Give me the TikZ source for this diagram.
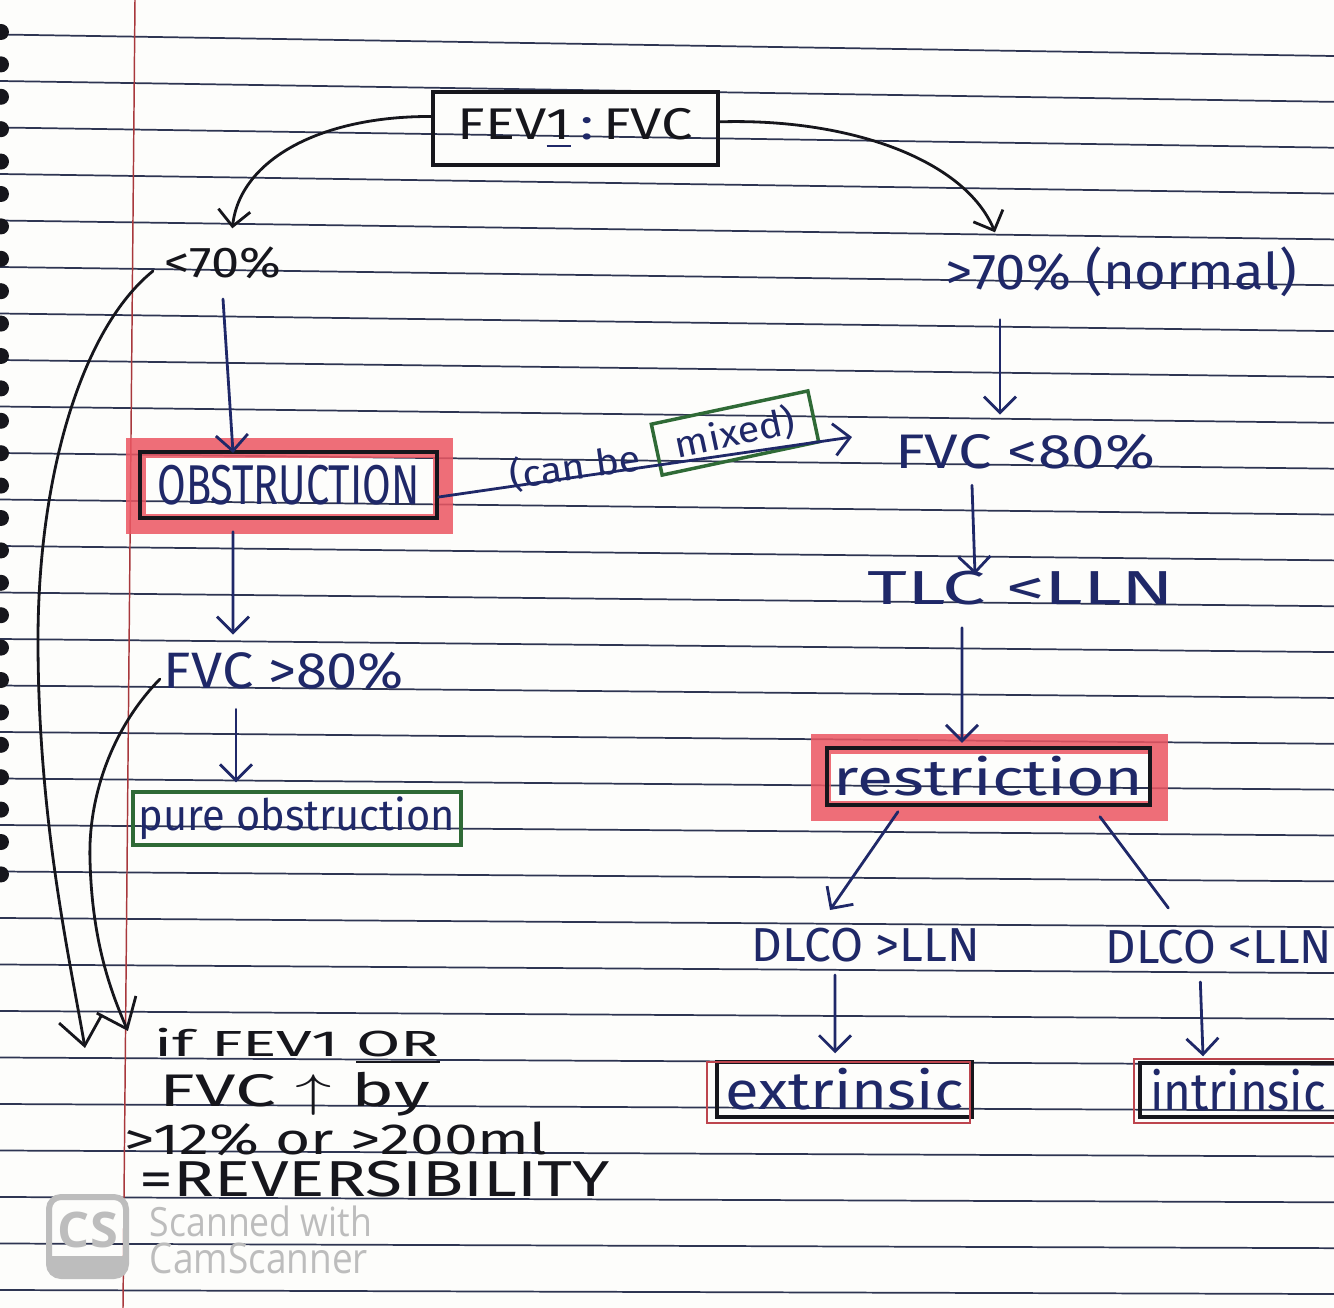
\documentclass[tikz,border=0pt]{standalone}
\usepackage{fontspec}
\setmainfont{Fira Sans}
\newfontfamily\wmfont{Open Sans}
\usetikzlibrary{arrows.meta}
\definecolor{inkblue}{HTML}{1F2868}
\definecolor{inkblack}{HTML}{16161C}
\definecolor{inkgreen}{HTML}{2F6A36}
\definecolor{marker}{HTML}{EC5662}
\definecolor{ruleline}{HTML}{2E3552}
\definecolor{marginred}{HTML}{A8383C}
\definecolor{paper}{HTML}{FDFDFB}
\definecolor{wmgray}{HTML}{BDBDBD}
\newlength\pxu \setlength\pxu{0.75pt}
\newcommand\hw[3]{\resizebox*{#1\pxu}{#2\pxu}{#3}}
\pgfdeclarelayer{paperlayer}
\pgfdeclarelayer{markerlayer}
\pgfsetlayers{paperlayer,markerlayer,main}
\begin{document}
\begin{tikzpicture}[x=0.75pt,y=-0.75pt,
  hand/.style={inner sep=0pt,outer sep=0pt,text=inkblue},
  handk/.style={hand,text=inkblack},
  frame/.style={draw=inkblack,line width=2.6pt,inner sep=0pt,text=inkblue},
  gframe/.style={draw=inkgreen,line width=2.6pt,inner sep=0pt,text=inkblue},
  pen/.style={draw=inkblue,line width=2.1pt,line cap=round,line join=round},
  penk/.style={pen,draw=inkblack},
  arr/.style={-{Straight Barb[length=12pt,width=24pt]}},
  bigarr/.style={-{Straight Barb[length=20pt,width=32pt]}},
  rule/.style={draw=ruleline,line width=1.3pt},
  hilite/.style={draw=marker,line width=15pt,opacity=0.85},
  redline/.style={draw=marker!80!black,line width=1.6pt},
  wm/.style={inner sep=0pt,text=wmgray},
]
\useasboundingbox (0,0) rectangle (1334,1308);
\begin{pgfonlayer}{paperlayer}
\fill[paper] (0,0) rectangle (1334,1308);
\foreach \k in {0,...,27}{
  \pgfmathsetmacro\yl{34.5+46.5*\k}
  \pgfmathsetmacro\yr{\yl+22-0.01395*\yl}
  \draw[rule] (0,\yl) -- (1334,\yr);
}
\draw[marginred,line width=1.1pt] (135,0) -- (123,1308);
\foreach \k in {0,...,26}{
  \fill[inkblack] (1,32+32.4*\k) circle[radius=6pt];
}
\end{pgfonlayer}

% nodes
\node[frame,minimum width=285\pxu,minimum height=73\pxu] (fev) at (575.5,128.5)
  {\hw{235}{40}{\color{inkblack}FEV{\color{inkblue}\underline{\color{inkblack}1}}\,{\color{inkblue}:}\,FVC}};
\node[handk] (lt70) at (223,263) {\hw{117}{32}{<70\%}};
\node[hand] (gt70) at (1121,272) {\hw{352}{50}{>70\% (normal)}};
\node[frame,minimum width=297\pxu,minimum height=66\pxu] (obs) at (288.5,485) {\hw{262}{40}{OBSTRUCTION}};
\node[hand] (fvcgt) at (284,671) {\hw{240}{38}{FVC >80\%}};
\node[gframe,minimum width=328\pxu,minimum height=53\pxu] (pure) at (297,818.5) {\hw{316}{43}{pure obstruction}};
\node[hand] (fvclt) at (1025,452) {\hw{260}{36}{FVC <80\%}};
\node[hand] (tlc) at (1021,588) {\hw{307}{34}{TLC <LLN}};
\node[frame,minimum width=323\pxu,minimum height=57\pxu] (res) at (988.5,776.5) {\hw{310}{40}{restriction}};
\node[hand] (dgt) at (866,945) {\hw{228}{34}{DLCO >LLN}};
\node[hand] (dlt) at (1219,947) {\hw{226}{34}{DLCO <LLN}};
\node[frame,minimum width=255\pxu,minimum height=55\pxu] (ext) at (844.5,1089.5) {\hw{238}{42}{extrinsic}};
\node[frame,minimum width=205\pxu,minimum height=54\pxu] (intr) at (1242.5,1090) {};
\node[hand] (intrtxt) at (1238,1090) {\hw{176}{42}{intrinsic}};

\node[handk] (note1) at (297,1046) {\hw{285}{36}{if FEV1 \underline{OR}}};
\node[handk] (note2) at (295,1094) {\hw{270}{44}{FVC $\uparrow$ by}};
\node[handk] (note3) at (336,1139) {\hw{423}{34}{>12\% or >200ml}};
\node[handk] (note4) at (375,1179) {\hw{470}{36}{=REVERSIBILITY}};

\node[hand,rotate=8] (canbe) at (575,467) {\hw{132}{36}{(can be}};
\node[gframe,rotate=12,minimum width=160\pxu,minimum height=52\pxu] (mixed) at (735,433) {\hw{122}{36}{mixed)}};

% highlighter marks
\begin{pgfonlayer}{markerlayer}
\draw[hilite] ([shift={(-2pt,2pt)}]obs.north west) rectangle ([shift={(3pt,-3pt)}]obs.south east);
\draw[hilite] ([shift={(-3pt,2pt)}]res.north west) rectangle ([shift={(5pt,-3pt)}]res.south east);
\end{pgfonlayer}
\draw[redline] ([shift={(-6pt,-1pt)}]ext.north west) rectangle ([shift={(-3pt,-3pt)}]ext.south east);
\draw[redline] ([shift={(-3pt,2pt)}]intr.north west) rectangle ([shift={(1pt,-3pt)}]intr.south east);

% connectors
\draw[penk,arr] ([yshift=9pt]fev.west) .. controls (320,116) and (240,160) .. ([xshift=7pt,yshift=14pt]lt70.north);
\draw[penk,arr] ([yshift=5pt]fev.east) .. controls (850,118) and (965,160) .. ([xshift=37.5pt,yshift=11pt]gt70.north west);
\draw[pen,arr] ([yshift=-15pt]lt70.south) -- ([xshift=-41.6pt,yshift=-2pt]obs.north);
\draw[pen,arr] ([xshift=-41.6pt,yshift=-9pt]obs.south) -- ([xshift=-38.25pt,yshift=13pt]fvcgt.north);
\draw[pen,arr] ([xshift=-36pt,yshift=-14.5pt]fvcgt.south) -- ([xshift=-45.75pt,yshift=6pt]pure.north);
\draw[pen,arr] ([xshift=-90.75pt,yshift=-17pt]gt70.south) -- ([xshift=-18.75pt,yshift=14.5pt]fvclt.north);
\draw[pen,arr] ([xshift=-39.75pt,yshift=-11.5pt]fvclt.south) -- ([xshift=-34.5pt,yshift=-2.5pt]tlc.north);
\draw[pen,arr] ([xshift=-44.25pt,yshift=-17pt]tlc.south) -- ([xshift=-19.9pt,yshift=2.6pt]res.north);
\draw[pen,arr] ([xshift=-67.9pt,yshift=-3.75pt]res.south) -- ([xshift=-27pt,yshift=13.5pt]dgt.north);
\draw[pen] ([xshift=83.6pt,yshift=-7.5pt]res.south) -- ([xshift=-38pt,yshift=16.5pt]dlt.north);
\draw[pen,arr] ([xshift=-23.25pt,yshift=-9.75pt]dgt.south) -- ([xshift=-7.1pt,yshift=5.25pt]ext.north);
\draw[pen,arr] ([xshift=-14pt,yshift=-13.5pt]dlt.south) -- ([xshift=-29.6pt,yshift=3.75pt]intr.north);
\draw[pen,arr] ([yshift=-9pt]obs.east) -- ([xshift=-32.25pt,yshift=11.25pt]fvclt.west);
\draw[penk,bigarr] ([xshift=-8.6pt,yshift=-6pt]lt70.west) .. controls (80,330) and (38,480) .. (38,640)
   .. controls (38,820) and (70,960) .. ([xshift=-52.1pt,yshift=-1.5pt]note1.west);
\draw[penk,bigarr] ([xshift=-3pt,yshift=-6pt]fvcgt.west) .. controls (110,730) and (88,800) .. (90,860)
   .. controls (92,940) and (110,990) .. ([xshift=-19.9pt,yshift=11.25pt]note1.west);

% scanner watermark
\draw[wmgray,line width=4.5pt,rounded corners=9pt] (49,1197) rectangle (126,1276);
\begin{scope}
\clip[rounded corners=9pt] (49,1197) rectangle (126,1276);
\fill[wmgray] (40,1256) rectangle (135,1285);
\end{scope}
\node[wm] (cs) at (88,1230) {\hw{60}{36}{\wmfont\bfseries CS}};
\node[wm] (wm1) at (261,1221) {\hw{222}{31}{\wmfont Scanned with}};
\node[wm] (wm2) at (259,1258) {\hw{218}{31}{\wmfont CamScanner}};
\end{tikzpicture}
\end{document}
